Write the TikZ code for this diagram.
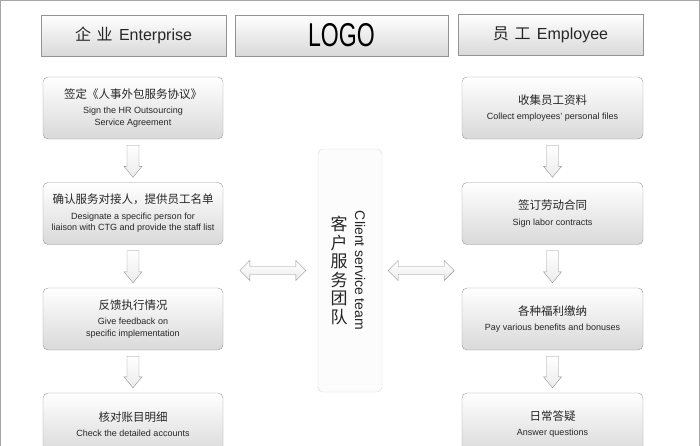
\documentclass[tikz,border=0pt]{standalone}
\usepackage{graphicx}
\usepackage{fontspec}
\setmainfont{Liberation Sans}
\newfontfamily\cjk{Noto Sans CJK SC}
\usetikzlibrary{calc,positioning}

\tikzset{
  headbox/.style={draw=gray!85, top color=white, bottom color=gray!30, minimum width=185pt, minimum height=41pt, inner sep=0pt, text=black!85},
  stepbox/.style={draw=gray!80, rounded corners=5pt, top color=white, bottom color=gray!30, minimum width=180pt, minimum height=62pt, align=center, inner sep=2pt, text=black!85, font=\fontsize{9}{11.5}\selectfont},
  hollow/.style={draw=gray!85, top color=white, bottom color=gray!15, line join=miter},
}
\newcommand{\zh}[1]{{\cjk\fontsize{11.5}{14}\selectfont #1}}
% hollow arrow pointing down, between two boxes
\newcommand{\downflow}[2]{%
  \draw[hollow] let \p1=(#1.south), \p2=(#2.north) in
    (\x1-6pt,\y1-6pt) -- (\x1+6pt,\y1-6pt) -- (\x1+6pt,\y2+16pt) -- (\x1+9pt,\y2+16pt)
    -- (\x1,\y2+5pt) -- (\x1-9pt,\y2+16pt) -- (\x1-6pt,\y2+16pt) -- cycle;}
% hollow double arrow between two points
\newcommand{\twoway}[2]{%
  \draw[hollow] let \p1=(#1), \p2=(#2) in
    (\x1,\y1) -- (\x1+10pt,\y1+10pt) -- (\x1+10pt,\y1+4pt) -- (\x2-10pt,\y1+4pt)
    -- (\x2-10pt,\y1+10pt) -- (\x2,\y1) -- (\x2-10pt,\y1-10pt) -- (\x2-10pt,\y1-4pt)
    -- (\x1+10pt,\y1-4pt) -- (\x1+10pt,\y1-10pt) -- cycle;}

\begin{document}
\begin{tikzpicture}[x=1pt, y=-1pt]
  \useasboundingbox (0,0) rectangle (700,445);
  \clip (0,0) rectangle (700,445);
  \draw[gray!70, line width=1pt] (0.5,460) -- (0.5,0.5) -- (699.5,0.5) -- (699.5,460);

  %header row
  \node[headbox] (enterprise) at (133.5,35.5) {\fontsize{16}{18}\selectfont{\cjk 企\hspace{0.35em}业}\hspace{0.4em}Enterprise};
  \node[headbox, minimum width=213pt] (logo) at (341.5,35.5) {\scalebox{0.7}[1]{\fontsize{33}{35}\selectfont\color{black}LOGO}};
  \node[headbox] (employee) at (550.5,35) {\fontsize{16}{18}\selectfont{\cjk 员\hspace{0.35em}工}\hspace{0.4em}Employee};

  %enterprise side
  \node[stepbox] (e1) at (133,108) {\zh{签定《人事外包服务协议》}\\[4pt] Sign the HR Outsourcing\\ Service Agreement};
  \node[stepbox] (e2) at (133,213.5) {\zh{确认服务对接人，提供员工名单}\\[4pt] Designate a specific person for\\ liaison with CTG and provide the staff list};
  \node[stepbox] (e3) at (133,319) {\zh{反馈执行情况}\\[4pt] Give feedback on\\ specific implementation};
  \node[stepbox] (e4) at (133,424) {\zh{核对账目明细}\\[4pt] Check the detailed accounts};

  %employee side
  \node[stepbox, minimum width=181pt] (w1) at (552.5,108) {\zh{收集员工资料}\\[4pt] Collect employees' personal files};
  \node[stepbox, minimum width=181pt] (w2) at (552.5,213.5) {\zh{签订劳动合同}\\[4pt] Sign labor contracts};
  \node[stepbox, minimum width=181pt] (w3) at (552.5,319) {\zh{各种福利缴纳}\\[4pt] Pay various benefits and bonuses};
  \node[stepbox, minimum width=181pt] (w4) at (552.5,424) {\zh{日常答疑}\\[4pt] Answer questions};

  %service team
  \node[draw=gray!30, rounded corners=5pt, fill=gray!2, minimum width=64pt, minimum height=243pt] (team) at (350,270.5) {};
  \node[align=center, font=\cjk\fontsize{17}{18.5}\selectfont, inner sep=0pt, text=black!85] (teamzh) at ($(team.center)+(-11,0)$) {客\\户\\服\\务\\团\\队};
  \node[rotate=-90, font=\fontsize{14}{16}\selectfont, inner sep=0pt, text=black!85] (teamen) at ($(team.center)+(10,0)$) {Client service team};

  \coordinate (lefta) at ($(team.west)+(-78,0)$);
  \coordinate (leftb) at ($(team.west)+(-12,0)$);
  \coordinate (righta) at ($(team.east)+(6,0)$);
  \coordinate (rightb) at ($(team.east)+(72,0)$);
  \twoway{lefta}{leftb}
  \twoway{righta}{rightb}

  \foreach \a/\b in {e1/e2, e2/e3, e3/e4, w1/w2, w2/w3, w3/w4}{
    \downflow{\a}{\b}
  }
\end{tikzpicture}
\end{document}
